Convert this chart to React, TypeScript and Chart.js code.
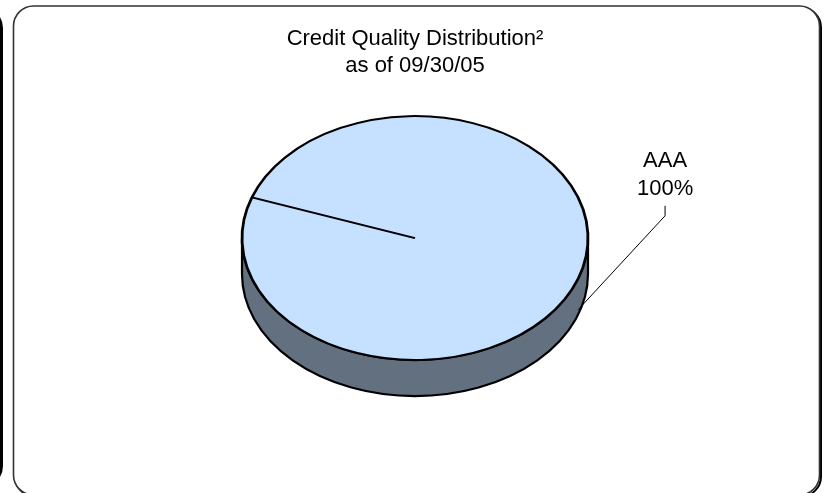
import React, { useEffect, useRef } from 'react';
import { Chart, registerables } from 'chart.js';

Chart.register(...registerables);

// ---- data ----
const categories = ['AAA'];
const values = [100];
const titleLines = ['Credit Quality Distribution²', 'as of 09/30/05'];

// ---- style ----
const TOP_COLOR = '#C6E0FF';
const SIDE_COLOR = '#637080';
const TILT = 0.705;
const DEPTH = 36;
const FONT = "'Liberation Sans', Arial, Helvetica, sans-serif";
const W = 824;
const H = 493;

function drawSide(
  ctx: CanvasRenderingContext2D,
  x: number,
  y: number,
  rx: number,
  ry: number,
  a0: number,
  a1: number,
  depth: number
) {
  const TAU = Math.PI * 2;
  for (let k = -2; k <= 2; k++) {
    const s = Math.max(a0, k * TAU);
    const e = Math.min(a1, k * TAU + Math.PI);
    if (e > s) {
      ctx.beginPath();
      ctx.ellipse(x, y, rx, ry, 0, s, e, false);
      ctx.ellipse(x, y + depth, rx, ry, 0, e, s, true);
      ctx.closePath();
      ctx.fill();
      ctx.stroke();
    }
  }
}

export default function App() {
  const ref = useRef<HTMLCanvasElement>(null);

  useEffect(() => {
    const canvas = ref.current;
    if (!canvas) return;

    const framePlugin = {
      id: 'frame',
      beforeDraw(chart: any) {
        const ctx: CanvasRenderingContext2D = chart.ctx;
        ctx.save();
        ctx.fillStyle = '#fff';
        ctx.fillRect(0, 0, W, H);
        // neighbouring panel edge on the left
        ctx.strokeStyle = '#000';
        ctx.lineWidth = 3;
        ctx.beginPath();
        (ctx as any).roundRect(-500, 8, 501.5, 478, 20);
        ctx.stroke();
        // shadow of main panel
        ctx.lineWidth = 2;
        ctx.strokeStyle = '#000';
        ctx.beginPath();
        (ctx as any).roundRect(15, 7.5, 806, 489, 20);
        ctx.stroke();
        // main panel
        ctx.fillStyle = '#fff';
        ctx.beginPath();
        (ctx as any).roundRect(13.5, 6, 806, 489, 20);
        ctx.fill();
        ctx.strokeStyle = '#333';
        ctx.lineWidth = 1.6;
        ctx.stroke();
        ctx.restore();
      },
    };

    const pie3dPlugin = {
      id: 'pie3d',
      beforeDatasetsDraw(chart: any) {
        const ctx: CanvasRenderingContext2D = chart.ctx;
        const meta = chart.getDatasetMeta(0);
        ctx.save();
        ctx.fillStyle = SIDE_COLOR;
        ctx.strokeStyle = '#000';
        ctx.lineWidth = 2.2;
        ctx.lineJoin = 'round';
        meta.data.forEach((arc: any) => {
          const r = arc.outerRadius;
          drawSide(ctx, arc.x, arc.y, r, r * TILT, arc.startAngle, arc.endAngle, DEPTH);
        });
        ctx.restore();
        const a0 = meta.data[0];
        ctx.save();
        ctx.translate(a0.x, a0.y);
        ctx.scale(1, TILT);
        ctx.translate(-a0.x, -a0.y);
      },
      afterDatasetsDraw(chart: any) {
        const ctx: CanvasRenderingContext2D = chart.ctx;
        ctx.restore();
        const meta = chart.getDatasetMeta(0);
        const total = values.reduce((s, v) => s + v, 0);
        ctx.save();
        meta.data.forEach((arc: any, i: number) => {
          const mid = (arc.startAngle + arc.endAngle) / 2;
          const r = arc.outerRadius;
          const ax = arc.x + r * Math.cos(mid);
          const ay = arc.y + r * TILT * Math.sin(mid) + DEPTH - 5;
          const tx = ax + 87;
          const ty = ay - 94;
          ctx.strokeStyle = '#000';
          ctx.lineWidth = 1;
          ctx.beginPath();
          ctx.moveTo(ax, ay);
          ctx.lineTo(tx, ty);
          ctx.lineTo(tx, ty - 10);
          ctx.stroke();
          ctx.fillStyle = '#000';
          ctx.font = `22px ${FONT}`;
          ctx.textAlign = 'center';
          ctx.textBaseline = 'alphabetic';
          const pct = Math.round((values[i] / total) * 100) + '%';
          ctx.fillText(categories[i], tx, ty - 49);
          ctx.fillText(pct, tx, ty - 21);
        });
        ctx.restore();
      },
    };

    const chart = new Chart(canvas, {
      type: 'pie',
      data: {
        labels: categories,
        datasets: [
          {
            data: values,
            backgroundColor: TOP_COLOR,
            borderColor: '#000',
            borderWidth: 2.8,
            radius: 173,
            rotation: 289.5,
            clip: false,
          } as any,
        ],
      },
      options: {
        responsive: false,
        animation: false,
        events: [],
        layout: { padding: { left: 6, right: 0, top: 0, bottom: 117 } },
        plugins: {
          legend: { display: false },
          tooltip: { enabled: false },
          title: {
            display: true,
            text: titleLines,
            color: '#000',
            font: { family: FONT, size: 22, weight: 'normal', lineHeight: 1.23 } as any,
            padding: { top: 25, bottom: 21 },
          },
        },
      },
      plugins: [framePlugin, pie3dPlugin],
    });

    return () => chart.destroy();
  }, []);

  return (
    <div style={{ position: 'absolute', left: 0, top: 0, width: W, height: H }}>
      <canvas ref={ref} width={W} height={H} style={{ display: 'block', width: W, height: H }} />
    </div>
  );
}
